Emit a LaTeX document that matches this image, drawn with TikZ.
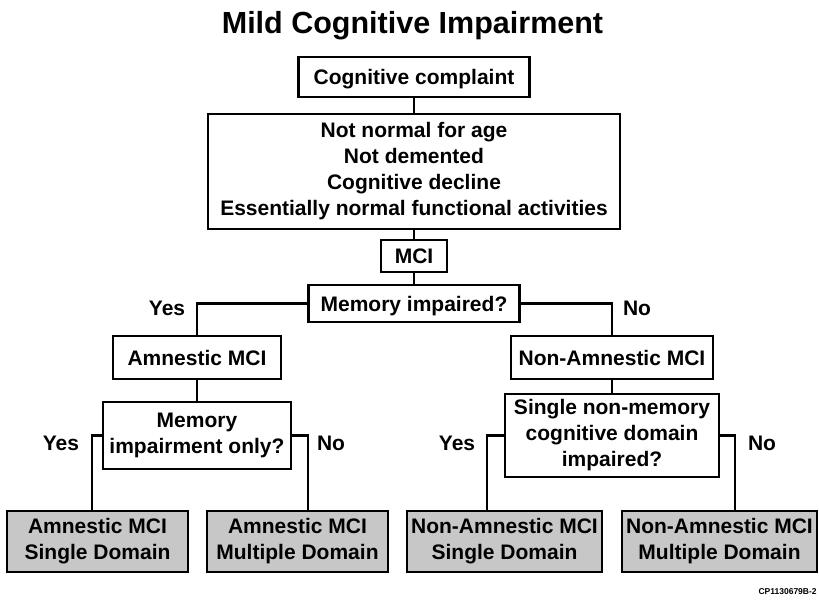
\documentclass[tikz,border=0pt]{standalone}
\usepackage{fontspec}
\setmainfont{Liberation Sans}
\usepackage{xcolor}

\begin{document}
\begin{tikzpicture}
  [x=1pt,y=-1pt,line width=2.7pt,
   every node/.style={inner sep=0pt,align=center,font=\bfseries\fontsize{21}{26}\selectfont},
   box/.style={draw,fill=white},
   oneline/.style={text height=15pt,text depth=0pt},
   leaf/.style={draw,fill=black!22,minimum width=#1,minimum height=61pt},
   answer/.style={}]
  \useasboundingbox (0,0) rectangle (819,607);

  \node (title) at (412.5,34) [anchor=base,font=\bfseries\fontsize{30.5}{34}\selectfont] {Mild Cognitive Impairment};

  \node[box,oneline,minimum width=231pt,minimum height=40pt] (cc) at (414,77) {Cognitive complaint};
  \node[box,minimum width=412pt,minimum height=115pt] (crit) at (414,171.5)
    {Not normal for age\\Not demented\\Cognitive decline\\Essentially normal functional activities};
  \node[box,oneline,minimum width=66pt,minimum height=32pt] (mci) at (414,256) {MCI};
  \node[box,oneline,minimum width=211pt,minimum height=37pt] (mem) at (414,303.5) {Memory impaired?};

  \node[box,oneline,minimum width=168pt,minimum height=43pt] (amn) at (197,357.5) {Amnestic MCI};
  \node[box,oneline,minimum width=202pt,minimum height=43pt] (nam) at (612,357.5) {Non-Amnestic MCI};

  \node[box,minimum width=188pt,minimum height=67pt] (memonly) at (197,435.5) {Memory\\impairment only?};
  \node[box,minimum width=214pt,minimum height=83pt] (single) at (612,435.5)
    {Single non-memory\\cognitive domain\\impaired?};

  \node[leaf=181pt] (amnsd) at (97.5,541.5) {Amnestic MCI\\Single Domain};
  \node[leaf=181pt] (amnmd) at (297.5,541.5) {Amnestic MCI\\Multiple Domain};
  \node[leaf=195pt] (nasd) at (504.5,541.5) {Non-Amnestic MCI\\Single Domain};
  \node[leaf=195pt] (namd) at (719.5,541.5) {Non-Amnestic MCI\\Multiple Domain};

  \node[answer] (yes1) at (167,308) {Yes};
  \node[answer] (no1) at (637,308) {No};
  \node[answer] (yes2) at (61,443) {Yes};
  \node[answer] (no2) at (331,443) {No};
  \node[answer] (yes3) at (457,443) {Yes};
  \node[answer] (no3) at (762,443) {No};

  \node (code) at (818,592) [anchor=east,font=\bfseries\fontsize{8.5}{10}\selectfont] {CP1130679B-2};

  \foreach \from/\to in {cc/crit,crit/mci,mci/mem,amn/memonly,nam/single}
    \draw (\from) -- (\to);
  \draw (mem.west) -| (amn.north);
  \draw (mem.east) -| (nam.north);
  \foreach \from/\to/\s in {memonly.west/amnsd/-5.5,memonly.east/amnmd/10.5,single.west/nasd/-17.5,single.east/namd/15.5}
    \draw (\from) -| ([xshift=\s]\to.north);

\end{tikzpicture}
\end{document}
